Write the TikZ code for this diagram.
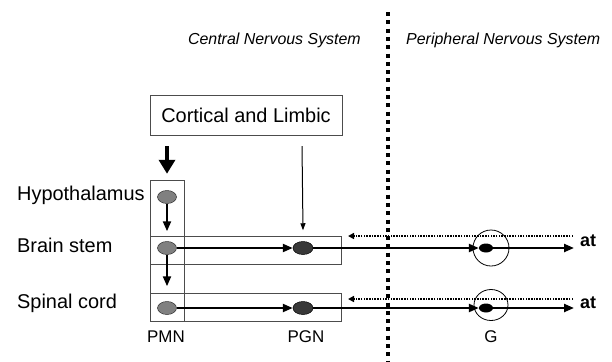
\documentclass[tikz,border=0pt]{standalone}
\usepackage{fontspec}
\setmainfont{Liberation Sans}
\usetikzlibrary{arrows.meta,shapes.geometric}
\begin{document}
\begin{tikzpicture}[x=1bp,y=-1bp,
  frame/.style={draw=black!70,line width=0.8bp},
  pmn/.style={ellipse,draw=black!80,line width=0.5bp,fill=black!50,minimum width=19bp,minimum height=13bp,inner sep=0},
  pgn/.style={ellipse,draw=black,line width=0.5bp,fill=black!78,minimum width=20bp,minimum height=13bp,inner sep=0},
  gcell/.style={ellipse,fill=black,minimum width=14bp,minimum height=9bp,inner sep=0},
  conn/.style={line width=2.2bp,-{Triangle[length=10bp,width=8bp]}},
  thin/.style={line width=1bp,-{Triangle[length=7bp,width=5bp]}},
  thick/.style={line width=3.5bp,-{Triangle[length=14bp,width=16bp]}},
  back/.style={line width=1.6bp,dash pattern=on 1.5bp off 1.2bp,-{Triangle[length=6bp,width=6bp]}},
  divider/.style={line width=4bp,dash pattern=on 4bp off 4.3bp},
  lab/.style={font=\fontsize{20}{23}\selectfont,inner sep=0},
  small/.style={font=\fontsize{17}{20}\selectfont,inner sep=0},
  ital/.style={font=\fontsize{16}{19}\selectfont\itshape,inner sep=0},
  boldlab/.style={font=\fontsize{18}{21}\selectfont\bfseries,inner sep=0},
]
\useasboundingbox[fill=white] (0,0) rectangle (612,361);

% divider
\coordinate (divTop) at (388,12);
\coordinate (divBot) at (388,361);
\draw[divider] (divTop) -- (divBot);

% headings
\node[ital,anchor=base east] (cns) at (361,44) {Central Nervous System};
\node[ital,anchor=base west] (pns) at (406,44) {Peripheral Nervous System};

% cortical box
\node[frame,lab,minimum width=192bp,minimum height=40bp] (cortex) at (246,115) {Cortical and Limbic};

% frames
\draw[frame] (150,180) rectangle (184,321);
\draw[frame] (150,236) rectangle (341,264);
\draw[frame] (150,293) rectangle (341,321);

% cells
\node[pmn] (hyp) at (167,197) {};
\node[pmn] (pmnB) at (167,248) {};
\node[pmn] (pmnS) at (167,308) {};
\node[pgn] (pgnB) at (303,248) {};
\node[pgn] (pgnS) at (303,308) {};
\node[gcell] (gB) at (486,248) {};
\node[gcell] (gS) at (486,308) {};
\node[circle,draw,line width=0.8bp,minimum size=36bp,inner sep=0] (ganB) at (491,248) {};
\node[ellipse,draw,line width=0.8bp,minimum width=34bp,minimum height=31bp,inner sep=0] (ganS) at (491,305) {};

% descending arrows
\coordinate (thickStart) at (167,146);
\draw[thick] (thickStart) -- ([yshift=16.5bp]hyp.north);
\coordinate (thinStart) at (302,146);
\draw[thin] (thinStart) -- ([yshift=11bp]pgnB.north);
\draw[conn] (hyp) -- ([yshift=10bp]pmnB.north);
\draw[conn] (pmnB) -- ([yshift=15bp]pmnS.north);

% horizontal arrows
\draw[conn] (pmnB) -- (pgnB);
\draw[conn] (pmnS) -- (pgnS);
\draw[conn] (pgnB) -- (gB);
\draw[conn] (pgnS) -- (gS);
\coordinate (endB) at (574,248);
\coordinate (endS) at (574,308);
\draw[conn] (gB) -- (endB);
\draw[conn] (gS) -- (endS);

% feedback dotted arrows
\coordinate (fbB1) at (573,236);
\coordinate (fbB2) at (348,236);
\coordinate (fbS1) at (573,299);
\coordinate (fbS2) at (348,299);
\draw[back] (fbB1) -- (fbB2);
\draw[back] (fbS1) -- (fbS2);

% labels
\node[lab,anchor=base west] (hypL) at (17,200) {Hypothalamus};
\node[lab,anchor=base west] (bsL) at (17,252) {Brain stem};
\node[lab,anchor=base west] (scL) at (17,308) {Spinal cord};
\node[small,anchor=base] (pmnL) at (166,342) {PMN};
\node[small,anchor=base] (pgnL) at (306,342) {PGN};
\node[small,anchor=base] (gL) at (491,342) {G};
\node[boldlab,anchor=base] (atB) at (588,246) {at};
\node[boldlab,anchor=base] (atS) at (588,308) {at};
\end{tikzpicture}
\end{document}
